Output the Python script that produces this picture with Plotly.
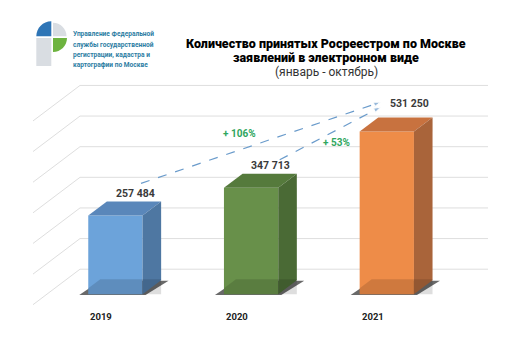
import plotly.graph_objects as go

# ---------------- data ----------------
categories = ["2019", "2020", "2021"]
values = [257484, 347713, 531250]
grid_ticks = [0, 100000, 200000, 300000, 400000, 500000, 600000]
title_lines = ["Количество принятых Росреестром по Москве",
               "заявлений в электронном виде"]
subtitle = "(январь - октябрь)"
logo_lines = ["Управление Федеральной", "службы государственной",
              "регистрации, кадастра и", "картографии по Москве"]

# ---------------- styles ----------------
front_colors = ["#6CA3DA", "#68904A", "#EE8C48"]
top_colors = ["#5A87BA", "#557A3C", "#C8723F"]
side_colors = ["#4E77A2", "#4A6A35", "#A9643A"]
grid_color = "#DEDEDE"
arrow_color = "#6A9BCB"
pct_color = "#2FA65E"
label_color = "#3A3A3A"
logo_text_color = "#2C7DA3"
FONT = "Roboto"

# ---------------- geometry (pixel based scales) ----------------
W, H = 510, 355
PX_X = 135.7      # pixels between categories
VPP = 3265.0      # value units per pixel
X0 = 107.4        # pixel x of first bar centre
Y0 = 286.3        # pixel y of zero on front plane
BAR_W = 0.4

def dx(px):
    return px / PX_X

def dy(px):
    return px * VPP

x_range = [(0 - X0) / PX_X, (W - X0) / PX_X]
y_range = [(Y0 - H) * VPP, Y0 * VPP]

BAR_DEPTH = (18.6, 14.0)     # px offset of bar back plane
WALL = (33.2, 25.1)          # px offset of back wall from bar front plane
FLOOR_DEPTH = (47.0, 35.5)   # px depth of the side wall
wall_left = dx(72 - X0)
wall_right = dx(480 - X0)

xs = list(range(len(values)))
hw = BAR_W / 2
bdx, bdy = dx(BAR_DEPTH[0]), dy(BAR_DEPTH[1])

fig = go.Figure()
shapes = []

# back wall grid + side wall diagonals
for t in grid_ticks:
    yw = t + dy(WALL[1])
    shapes.append(dict(type="line", xref="x", yref="y", x0=wall_left, x1=wall_right,
                       y0=yw, y1=yw, line=dict(color=grid_color, width=1), layer="below"))
    shapes.append(dict(type="line", xref="x", yref="y", x0=wall_left,
                       x1=wall_left - dx(FLOOR_DEPTH[0]), y0=yw,
                       y1=yw - dy(FLOOR_DEPTH[1]),
                       line=dict(color=grid_color, width=1), layer="below"))

# floor shadows
for i in xs:
    l, r = i - hw, i + hw
    pts = [(l - dx(9), -dy(0.8)), (r + dx(3), -dy(0.8)),
           (r + dx(26), dy(13.5)), (l + dx(12), dy(13.5))]
    path = "M " + " L ".join(f"{px},{py}" for px, py in pts) + " Z"
    shapes.append(dict(type="path", xref="x", yref="y", path=path,
                       fillcolor="rgba(55,55,55,0.75)", line=dict(width=0),
                       layer="below"))

# front faces
fig.add_trace(go.Bar(x=xs, y=values, width=BAR_W, marker=dict(color=front_colors, line=dict(width=0)),
                     hoverinfo="skip"))

# top & side faces, floor reflection band
for i, v in enumerate(values):
    l, r = i - hw, i + hw
    fig.add_trace(go.Scatter(x=[l, r, r + bdx, l + bdx, l], y=[v, v, v + bdy, v + bdy, v],
                             fill="toself", fillcolor=top_colors[i], mode="lines",
                             line=dict(width=0), hoverinfo="skip"))
    fig.add_trace(go.Scatter(x=[r, r, r + bdx, r + bdx, r], y=[0, v, v + bdy, bdy, 0],
                             fill="toself", fillcolor=side_colors[i], mode="lines",
                             line=dict(width=0), hoverinfo="skip"))
    fig.add_trace(go.Scatter(x=[l, l, l + dx(12), r + bdx, r + bdx, l],
                             y=[0, dy(6), dy(15), dy(15), 0, 0],
                             fill="toself", fillcolor="rgba(0,0,0,0.13)", mode="lines",
                             line=dict(width=0), hoverinfo="skip"))

annotations = []

# value labels
label_shift = [(1, 8), (1, 8), (4, 14)]
label_pos = []
for i, v in enumerate(values):
    lx = i + bdx + dx(label_shift[i][0])
    ly = v + bdy + dy(label_shift[i][1])
    label_pos.append((lx, ly))
    annotations.append(dict(x=lx, y=ly, xref="x", yref="y", showarrow=False,
                            text=f"<b>{v:,}</b>".replace(",", " "),
                            font=dict(family=FONT, size=10.5, color=label_color)))

# growth arrows
growth_pairs = [(0, (6, 10), (-29, 1.4), (-21, 9)),
                (1, (9, 6), (-29, -3.6), (6, -8.5))]
last = len(values) - 1
for src, s_off, e_off, t_off in growth_pairs:
    sx = label_pos[src][0] + dx(s_off[0]); sy = label_pos[src][1] + dy(s_off[1])
    ex = label_pos[last][0] + dx(e_off[0]); ey = label_pos[last][1] + dy(e_off[1])
    fig.add_trace(go.Scatter(x=[sx, ex], y=[sy, ey], mode="lines+markers",
                             line=dict(color=arrow_color, width=1.2, dash="dash"),
                             marker=dict(symbol="arrow", size=[0, 7], angleref="previous",
                                         color=arrow_color),
                             hoverinfo="skip"))
    pct = round((values[last] / values[src] - 1) * 100)
    annotations.append(dict(x=(sx + ex) / 2 + dx(t_off[0]), y=(sy + ey) / 2 + dy(t_off[1]),
                            xref="x", yref="y", showarrow=False, text=f"<b>+ {pct}%</b>",
                            font=dict(family=FONT, size=10, color=pct_color)))

# category labels at the front of the floor
for i, c in enumerate(categories):
    annotations.append(dict(x=i - dx(14), y=-dy(21.7), xref="x", yref="y", showarrow=False,
                            text=f"<b>{c}</b>", font=dict(family=FONT, size=9.5, color="#222222")))

# title
for k, line in enumerate(title_lines):
    annotations.append(dict(x=318 / W, y=1 - (25.7 + 14.5 * k) / H, xref="paper", yref="paper",
                            showarrow=False, text=line,
                            font=dict(family=FONT, size=12.5, color="#000000", weight=900)))
annotations.append(dict(x=318 / W, y=1 - 55 / H, xref="paper", yref="paper", showarrow=False,
                        text=subtitle, font=dict(family=FONT, size=12, color="#333333")))

# logo text
for k, line in enumerate(logo_lines):
    annotations.append(dict(x=63 / W, y=1 - (20.3 + 10.2 * k) / H, xref="paper", yref="paper",
                            xanchor="left", showarrow=False, text=f"<b>{line}</b>",
                            font=dict(family=FONT, size=6.6, color=logo_text_color)))

# logo graphic (pixel coordinates -> paper)
def P(x, y):
    return f"{x / W},{1 - y / H}"

K = 0.5523
def quarter(cx, cy, r, a, b):
    ax, ay = a; bx, by = b
    p1 = (cx + ax * r, cy + ay * r); p2 = (cx + bx * r, cy + by * r)
    c1 = (p1[0] + bx * r * K, p1[1] + by * r * K)
    c2 = (p2[0] + ax * r * K, p2[1] + ay * r * K)
    return (f"M {P(cx, cy)} L {P(*p1)} C {P(*c1)} {P(*c2)} {P(*p2)} Z")

logo_shapes = [
    (quarter(43.3, 28.3, 15, (-1, 0), (0, -1)), "#2E75B6"),
    (quarter(45, 28.3, 13.5, (0, -1), (1, 0)), "#D9DDE2"),
    (quarter(45, 30, 14, (1, 0), (0, 1)), "#6DB33F"),
]
for path, col in logo_shapes:
    shapes.append(dict(type="path", xref="paper", yref="paper", path=path,
                       fillcolor=col, line=dict(width=0)))
shapes.append(dict(type="rect", xref="paper", yref="paper", x0=28.3 / W, x1=43.3 / W,
                   y0=1 - 58 / H, y1=1 - 30 / H, fillcolor="#D9DDE2", line=dict(width=0)))

fig.update_layout(
    width=W, height=H, autosize=False,
    margin=dict(l=0, r=0, t=0, b=0),
    paper_bgcolor="white", plot_bgcolor="white",
    showlegend=False, barmode="overlay",
    xaxis=dict(range=x_range, visible=False, fixedrange=True),
    yaxis=dict(range=y_range, visible=False, fixedrange=True),
    shapes=shapes, annotations=annotations,
    font=dict(family=FONT),
)

fig.write_html("out.html", config={"displayModeBar": False})
